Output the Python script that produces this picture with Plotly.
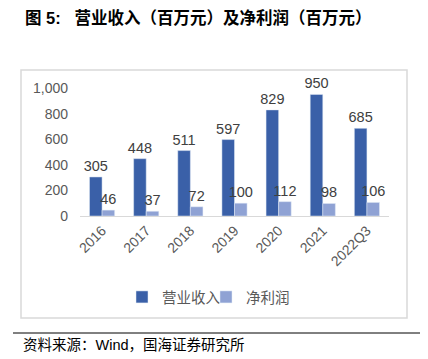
import plotly.graph_objects as go

categories = ["2016", "2017", "2018", "2019", "2020", "2021", "2022Q3"]
revenue = [305, 448, 511, 597, 829, 950, 685]
profit = [46, 37, 72, 100, 112, 98, 106]
series_names = ["营业收入", "净利润"]
y_ticks = [0, 200, 400, 600, 800, 1000]
y_tick_text = ["0", "200", "400", "600", "800", "1,000"]

FONT = "Liberation Sans, Arial, Noto Sans CJK SC, sans-serif"
OFF = 8  # page body margin
L, R, T, B = 80 - OFF, 389 - OFF, 88 - OFF, 216 - OFF
W, H = 428 - OFF, 359 - OFF

def px(x):
    return (x - OFF - L) / (R - L)

def py(y):
    return (B - (y - OFF)) / (B - T)

fig = go.Figure()
fig.add_bar(x=categories, y=revenue, name=series_names[0], marker_color="#3A60A8",
            text=[str(v) for v in revenue], textposition="outside", constraintext="none",
            textfont=dict(size=14.5, color="#404040", family=FONT), cliponaxis=False,
            legend="legend")
fig.add_bar(x=categories, y=profit, name=series_names[1], marker_color="#8FA2D4",
            text=[str(v) for v in profit], textposition="outside", constraintext="none",
            textfont=dict(size=14.5, color="#404040", family=FONT), cliponaxis=False,
            legend="legend2")

legend_common = dict(orientation="h", yanchor="middle", y=py(297), xanchor="left",
                     font=dict(size=14.5, color="#595959", family=FONT), itemwidth=30,
                     bgcolor="rgba(0,0,0,0)", borderwidth=0)

fig.update_layout(
    width=W, height=H,
    margin=dict(l=L, r=W - R, t=T, b=H - B),
    paper_bgcolor="white", plot_bgcolor="white",
    barmode="group", bargap=0.43, bargroupgap=0,
    font=dict(family=FONT, color="#595959"),
    showlegend=True,
    legend=dict(legend_common, x=px(122)),
    legend2=dict(legend_common, x=px(206)),
    xaxis=dict(tickangle=-45, tickfont=dict(size=14, color="#595959"), showline=True,
               linecolor="#D9D9D9", linewidth=1, ticks="", showgrid=False),
    yaxis=dict(range=[0, 1000], tickvals=y_ticks, ticktext=y_tick_text,
               tickfont=dict(size=14, color="#595959"), showgrid=False, zeroline=False,
               showline=False, ticks="", ticklabelstandoff=11),
    shapes=[
        dict(type="rect", xref="paper", yref="paper", x0=px(21), x1=px(407), y0=py(318), y1=py(70),
             line=dict(color="#D9D9D9", width=1.5), fillcolor="rgba(0,0,0,0)", layer="below"),
        dict(type="line", xref="paper", yref="paper", x0=px(13), x1=px(428), y0=py(333), y1=py(333),
             line=dict(color="#000000", width=1)),
    ],
    annotations=[
        dict(text="<b>图 5:\u00a0\u00a0\u00a0营业收入（百万元）及净利润（百万元）</b>", xref="paper", yref="paper",
             x=px(23), y=py(17), xanchor="left", yanchor="middle", showarrow=False,
             font=dict(size=16.5, color="#000000", family="Liberation Sans, Noto Sans CJK SC")),
        dict(text="资料来源：Wind，国海证券研究所", xref="paper", yref="paper",
             x=px(21), y=py(345), xanchor="left", yanchor="middle", showarrow=False,
             font=dict(size=14.5, color="#000000", family="Liberation Sans, Noto Sans CJK SC")),
    ],
)

fig.write_html("out.html")
